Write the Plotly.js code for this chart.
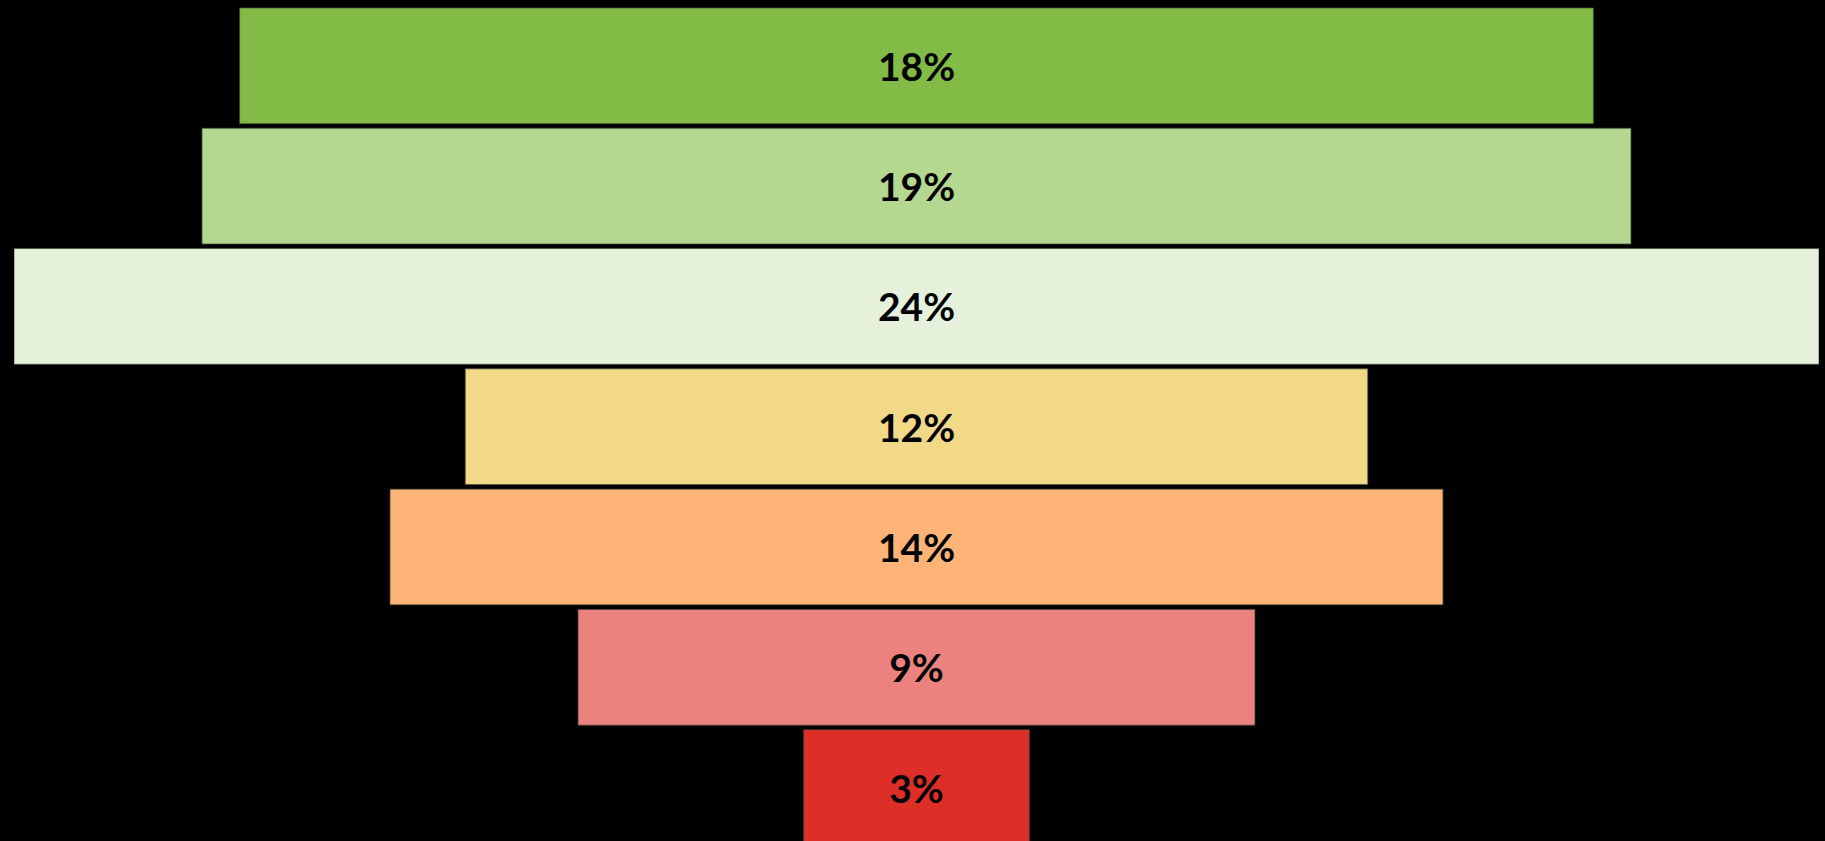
<!DOCTYPE html>
<html>
<head>
<meta charset="utf-8">
<script src="https://cdn.plot.ly/plotly-3.0.1.min.js"></script>
<style>html,body{margin:0;padding:0;background:#000;}#chart{width:1825px;height:841px;}</style>
</head>
<body>
<div id="chart"></div>
<script>
const stages = ["Stage 1", "Stage 2", "Stage 3", "Stage 4", "Stage 5", "Stage 6", "Stage 7"];
const shares = [18, 19, 24, 12, 14, 9, 3];
const colors = ["#82BB45", "#B4D88F", "#E5F1DA", "#F2D988", "#FDB476", "#EB827F", "#DE2E28"];

const trace = {
  type: "funnel",
  y: stages,
  x: shares,
  orientation: "h",
  marker: { color: colors, line: { color: "rgba(70,80,60,0.7)", width: 1 } },
  connector: { visible: false },
  texttemplate: "%{x}%",
  textposition: "inside",
  insidetextanchor: "middle",
  textangle: 0,
  textfont: { family: "Lato, 'DejaVu Sans', sans-serif", size: 39, color: "#000000", weight: "bold" },
  constraintext: "none",
  hoverinfo: "none"
};

const layout = {
  width: 1825,
  height: 841,
  margin: { l: 14, r: 6, t: 0, b: 0, pad: 0 },
  paper_bgcolor: "#000000",
  plot_bgcolor: "#000000",
  showlegend: false,
  funnelgap: 0.038,
  xaxis: { range: [-12, 12], visible: false, showgrid: false, zeroline: false, fixedrange: true },
  yaxis: { type: "category", range: [6.444, -0.547], visible: false, showgrid: false, zeroline: false, fixedrange: true }
};

Plotly.newPlot("chart", [trace], layout, { displayModeBar: false, staticPlot: true });
</script>
</body>
</html>
